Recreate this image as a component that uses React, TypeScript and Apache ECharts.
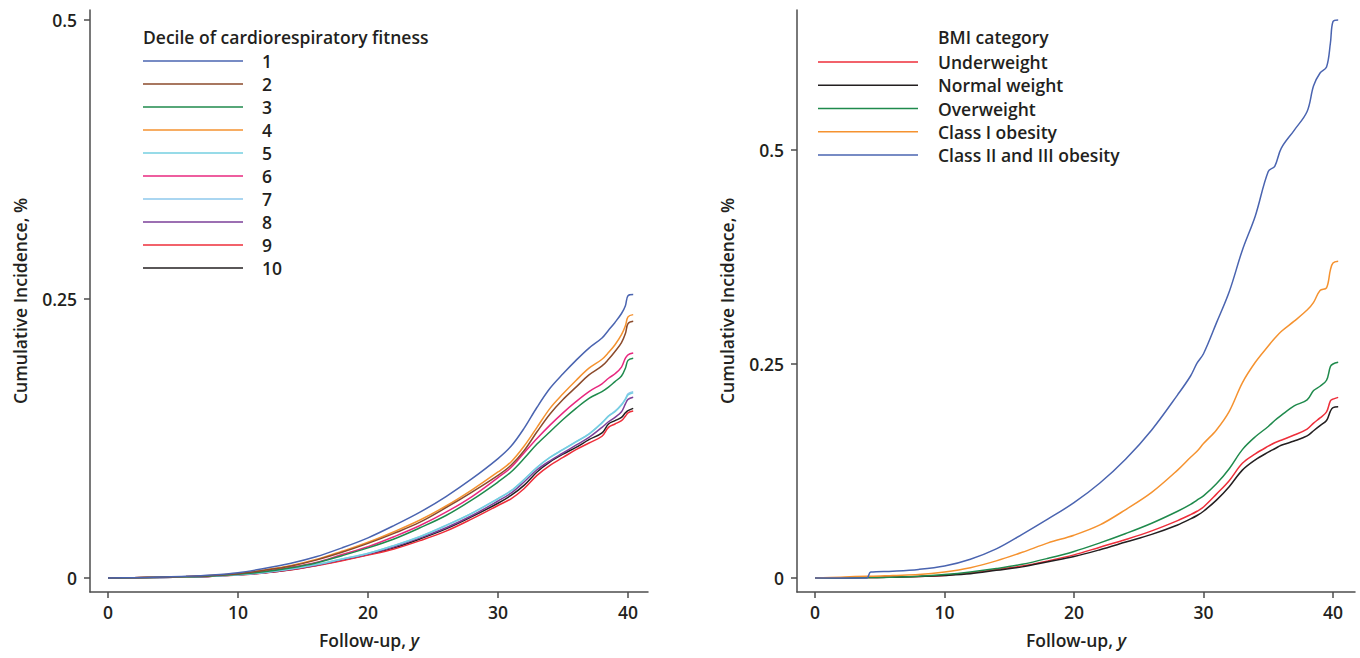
import React, { useEffect, useRef } from "react";
import * as echarts from "echarts";

// ---------- Left panel: decile of cardiorespiratory fitness ----------
const FIT_TIMES = [0, 2, 4, 6, 8, 10, 12, 14, 16, 18, 20, 22, 24, 26, 28, 30, 31, 32, 33, 34, 35, 36, 37, 38, 38.5, 39, 39.5, 39.8, 40, 40.4];
const DECILE_NAMES = ["1", "2", "3", "4", "5", "6", "7", "8", "9", "10"];
const DECILE_COLORS = ["#4a64b0", "#8b4a2b", "#1f8a4c", "#f5922f", "#74cfe0", "#e8287f", "#8ec8ec", "#7b3f98", "#ee2e3a", "#231f20"];

const D1 = [0, 0.0003, 0.0008, 0.0015, 0.0027, 0.0048, 0.0085, 0.013, 0.019, 0.027, 0.036, 0.047, 0.059, 0.073, 0.089, 0.107, 0.118, 0.134, 0.153, 0.170, 0.183, 0.195, 0.206, 0.215, 0.222, 0.229, 0.237, 0.244, 0.253, 0.254];
const D2 = [0, 0.0003, 0.0007, 0.0013, 0.0022, 0.0038, 0.0068, 0.0105, 0.016, 0.023, 0.031, 0.040, 0.050, 0.063, 0.077, 0.092, 0.101, 0.114, 0.131, 0.147, 0.160, 0.171, 0.182, 0.190, 0.196, 0.203, 0.211, 0.219, 0.228, 0.230];
const D3 = [0, 0.0002, 0.0006, 0.0011, 0.0019, 0.0033, 0.0056, 0.009, 0.0135, 0.020, 0.027, 0.035, 0.045, 0.056, 0.070, 0.086, 0.095, 0.107, 0.120, 0.131, 0.142, 0.152, 0.161, 0.167, 0.171, 0.176, 0.181, 0.188, 0.195, 0.197];
const D4 = [0, 0.0003, 0.0007, 0.0013, 0.0023, 0.004, 0.0072, 0.011, 0.0165, 0.024, 0.032, 0.0415, 0.052, 0.0645, 0.079, 0.095, 0.104, 0.118, 0.135, 0.152, 0.165, 0.177, 0.188, 0.196, 0.202, 0.209, 0.218, 0.226, 0.234, 0.236];
const D5 = [0, 0.0002, 0.0005, 0.001, 0.0017, 0.003, 0.005, 0.008, 0.012, 0.017, 0.022, 0.029, 0.037, 0.047, 0.058, 0.071, 0.078, 0.088, 0.099, 0.108, 0.115, 0.122, 0.129, 0.139, 0.145, 0.149, 0.155, 0.160, 0.164, 0.166];
const D6 = [0, 0.0002, 0.0006, 0.0012, 0.002, 0.0035, 0.006, 0.0095, 0.014, 0.021, 0.028, 0.037, 0.047, 0.059, 0.073, 0.090, 0.099, 0.112, 0.125, 0.137, 0.148, 0.158, 0.167, 0.174, 0.179, 0.183, 0.189, 0.197, 0.200, 0.2016];
const D7 = [0, 0.0002, 0.0005, 0.001, 0.0017, 0.003, 0.005, 0.008, 0.012, 0.017, 0.0222, 0.0292, 0.0372, 0.0472, 0.0582, 0.0712, 0.0782, 0.0882, 0.0992, 0.1082, 0.1152, 0.1222, 0.1292, 0.1392, 0.1452, 0.1495, 0.1555, 0.1605, 0.165, 0.167];
const D8 = [0, 0.0002, 0.0005, 0.001, 0.0016, 0.0029, 0.0048, 0.0077, 0.0115, 0.0165, 0.0215, 0.028, 0.036, 0.045, 0.056, 0.069, 0.076, 0.086, 0.097, 0.105, 0.112, 0.119, 0.126, 0.135, 0.140, 0.144, 0.149, 0.156, 0.160, 0.162];
const D9 = [0, 0.0002, 0.0005, 0.0009, 0.0015, 0.0027, 0.0045, 0.0072, 0.011, 0.0155, 0.0205, 0.026, 0.0335, 0.042, 0.053, 0.065, 0.071, 0.080, 0.092, 0.101, 0.108, 0.115, 0.121, 0.127, 0.135, 0.138, 0.141, 0.145, 0.148, 0.1496];
const D10 = [0, 0.0002, 0.0005, 0.0009, 0.0015, 0.0028, 0.0046, 0.0074, 0.0113, 0.016, 0.021, 0.027, 0.035, 0.044, 0.055, 0.067, 0.074, 0.083, 0.095, 0.104, 0.111, 0.117, 0.124, 0.130, 0.138, 0.141, 0.144, 0.148, 0.150, 0.152];
const DECILE_VALUES = [D1, D2, D3, D4, D5, D6, D7, D8, D9, D10];

// ---------- Right panel: BMI category ----------
const BMI_TIMES = [0, 2, 4, 4.3, 6, 8, 10, 12, 14, 16, 18, 20, 22, 24, 26, 28, 29, 29.5, 30, 31, 32, 33, 34, 35, 35.5, 36, 37, 38, 38.5, 39, 39.5, 39.8, 40, 40.4];
const BMI_NAMES = ["Underweight", "Normal weight", "Overweight", "Class I obesity", "Class II and III obesity"];
const BMI_COLORS = ["#ee2e3a", "#231f20", "#1f8a4c", "#f5922f", "#4a64b0"];

const UNDERWEIGHT = [0, 0.0002, 0.0005, 0.0005, 0.001, 0.0018, 0.003, 0.006, 0.010, 0.014, 0.020, 0.027, 0.036, 0.045, 0.055, 0.067, 0.074, 0.078, 0.083, 0.098, 0.114, 0.134, 0.145, 0.154, 0.158, 0.161, 0.167, 0.174, 0.181, 0.187, 0.194, 0.207, 0.209, 0.211];
const NORMAL = [0, 0.0002, 0.0005, 0.0005, 0.001, 0.0017, 0.003, 0.005, 0.009, 0.013, 0.019, 0.025, 0.033, 0.042, 0.051, 0.062, 0.069, 0.073, 0.078, 0.091, 0.107, 0.126, 0.138, 0.147, 0.151, 0.155, 0.160, 0.166, 0.172, 0.178, 0.184, 0.195, 0.199, 0.200];
const OVERWEIGHT = [0, 0.0002, 0.0005, 0.0005, 0.001, 0.002, 0.004, 0.007, 0.011, 0.016, 0.023, 0.031, 0.041, 0.052, 0.064, 0.078, 0.086, 0.091, 0.096, 0.110, 0.128, 0.150, 0.165, 0.177, 0.184, 0.190, 0.201, 0.208, 0.219, 0.224, 0.231, 0.247, 0.250, 0.252];
const CLASS1 = [0, 0.001, 0.002, 0.002, 0.003, 0.004, 0.007, 0.012, 0.020, 0.030, 0.041, 0.050, 0.062, 0.080, 0.100, 0.126, 0.141, 0.148, 0.157, 0.173, 0.195, 0.228, 0.252, 0.271, 0.280, 0.288, 0.300, 0.313, 0.322, 0.336, 0.339, 0.360, 0.368, 0.370];
const CLASS23 = [0, 0, 0, 0.007, 0.008, 0.010, 0.014, 0.022, 0.034, 0.051, 0.069, 0.088, 0.111, 0.139, 0.173, 0.214, 0.236, 0.251, 0.262, 0.298, 0.335, 0.383, 0.423, 0.475, 0.481, 0.502, 0.523, 0.545, 0.575, 0.590, 0.597, 0.625, 0.650, 0.652];
const BMI_VALUES = [UNDERWEIGHT, NORMAL, OVERWEIGHT, CLASS1, CLASS23];

const X_TICKS = [0, 10, 20, 30, 40];
const Y_TICKS = [0, 0.25, 0.5];
const LEFT_LEGEND_TITLE = "Decile of cardiorespiratory fitness";
const RIGHT_LEGEND_TITLE = "BMI category";
const Y_TITLE = "Cumulative Incidence, %";

const FONT = "'Open Sans', 'Noto Sans', sans-serif";
const FS = 17.5;
const TEXT = "#231f20";
const AXIS = "#4d4d4d";

function xAxisCfg(grid: number, min: number, max: number) {
  return {
    gridIndex: grid,
    type: "value",
    min,
    max,
    axisLine: { show: true, onZero: false, lineStyle: { color: AXIS, width: 1.5 } },
    axisTick: { show: true, customValues: X_TICKS, length: 6, lineStyle: { color: AXIS, width: 1.5 } },
    axisLabel: { customValues: X_TICKS, margin: 11, fontSize: FS, fontWeight: 600, color: TEXT, fontFamily: FONT },
    splitLine: { show: false },
    name: "{a|Follow-up, }{b|y}",
    nameLocation: "middle",
    nameGap: 39,
    nameTextStyle: {
      rich: {
        a: { fontSize: FS, fontWeight: 600, color: TEXT, fontFamily: FONT },
        b: { fontSize: FS, fontWeight: 600, fontStyle: "italic", color: TEXT, fontFamily: FONT },
      },
    },
  };
}

function yAxisCfg(grid: number, min: number, max: number) {
  return {
    gridIndex: grid,
    type: "value",
    min,
    max,
    axisLine: { show: true, onZero: false, lineStyle: { color: AXIS, width: 1.5 } },
    axisTick: { show: true, customValues: Y_TICKS, length: 6, lineStyle: { color: AXIS, width: 1.5 } },
    axisLabel: {
      customValues: Y_TICKS,
      margin: 13,
      fontSize: FS,
      fontWeight: 600,
      color: TEXT,
      fontFamily: FONT,
      formatter: (v: number) => String(v),
    },
    splitLine: { show: false },
    name: Y_TITLE,
    nameLocation: "middle",
    nameGap: 61,
    nameTextStyle: { fontSize: FS, fontWeight: 600, color: TEXT, fontFamily: FONT },
  };
}

function legendGraphics(names: string[], colors: string[], title: string, lineX: number, textX: number, titleX: number, y0: number, gap: number) {
  const els: any[] = [
    {
      type: "text",
      x: titleX,
      y: 37,
      style: { text: title, fill: TEXT, fontSize: FS, fontWeight: 600, fontFamily: FONT, verticalAlign: "middle" },
    },
  ];
  names.forEach((n, i) => {
    const y = y0 + gap * i;
    els.push({
      type: "line",
      shape: { x1: lineX, y1: y, x2: lineX + 100, y2: y },
      style: { stroke: colors[i], lineWidth: 1.5 },
    });
    els.push({
      type: "text",
      x: textX,
      y,
      style: { text: n, fill: TEXT, fontSize: FS, fontWeight: 600, fontFamily: FONT, verticalAlign: "middle" },
    });
  });
  return els;
}

export default function App() {
  const ref = useRef<HTMLDivElement>(null);
  useEffect(() => {
    if (!ref.current) return;
    const chart = echarts.init(ref.current, undefined, { renderer: "svg" });
    const leftSeries = DECILE_VALUES.map((vals, i) => ({
      name: DECILE_NAMES[i],
      type: "line",
      xAxisIndex: 0,
      yAxisIndex: 0,
      showSymbol: false,
      smooth: 0.35,
      lineStyle: { color: DECILE_COLORS[i], width: 1.5 },
      itemStyle: { color: DECILE_COLORS[i] },
      data: FIT_TIMES.map((t, j) => [t, vals[j]]),
      z: 10 - i,
    }));
    const rightSeries = BMI_VALUES.map((vals, i) => ({
      name: BMI_NAMES[i],
      type: "line",
      xAxisIndex: 1,
      yAxisIndex: 1,
      showSymbol: false,
      smooth: 0.35,
      lineStyle: { color: BMI_COLORS[i], width: 1.5 },
      itemStyle: { color: BMI_COLORS[i] },
      data: BMI_TIMES.map((t, j) => [t, vals[j]]),
    }));
    chart.setOption({
      animation: false,
      backgroundColor: "#ffffff",
      grid: [
        { left: 90, top: 10, width: 558, height: 582 },
        { left: 797, top: 10, width: 558, height: 582 },
      ],
      xAxis: [xAxisCfg(0, -18 / 13, 40 + 20 / 13), xAxisCfg(1, -18 / 12.95, 40 + 22 / 12.95)],
      yAxis: [yAxisCfg(0, -14 / 1116, 0.5 + 10 / 1116), yAxisCfg(1, -14 / 856, 0.5 + 140 / 856)],
      series: [...leftSeries, ...rightSeries],
      graphic: [
        ...legendGraphics(DECILE_NAMES, DECILE_COLORS, LEFT_LEGEND_TITLE, 143, 262, 143, 61, 23),
        ...legendGraphics(BMI_NAMES, BMI_COLORS, RIGHT_LEGEND_TITLE, 818, 938, 938, 62, 23.25),
      ],
    });
    return () => chart.dispose();
  }, []);
  return <div ref={ref} style={{ width: 1360, height: 658, position: "absolute", left: 0, top: 0 }} />;
}
